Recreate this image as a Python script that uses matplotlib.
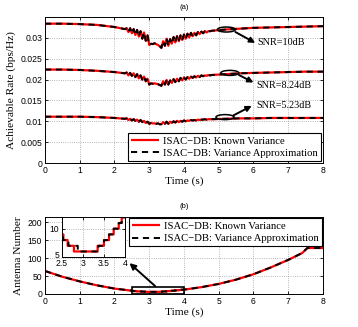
import matplotlib
matplotlib.use("Agg")
import matplotlib.pyplot as plt
import matplotlib.transforms as mtransforms
from matplotlib.patches import Ellipse, Rectangle

# ---------------- data ----------------
t_rate = [0, 0.5, 1.0, 1.5, 2.0, 2.3,
          2.35, 2.4, 2.45, 2.5, 2.55, 2.6, 2.65, 2.7, 2.75, 2.8,
          2.85, 2.9, 2.95, 3.0, 3.05, 3.1, 3.15, 3.2, 3.25, 3.3,
          3.35, 3.4, 3.45, 3.5, 3.55, 3.6, 3.65, 3.7, 3.75, 3.8,
          3.85, 3.9, 3.95, 4.0, 4.05, 4.1, 4.15, 4.2, 4.25, 4.3,
          4.35, 4.4, 4.45, 4.5, 4.55, 4.6, 4.65, 4.7, 4.75, 4.8,
          5.2, 5.6, 6.0, 6.5, 7.0, 7.5, 8.0]

rate_10dB = [0.0334, 0.0334, 0.0333, 0.0331, 0.0326, 0.0321,
             0.0323, 0.0314, 0.0323, 0.0311, 0.0321, 0.0307, 0.0319, 0.0303, 0.0316, 0.0298,
             0.0313, 0.0293, 0.0306, 0.0283, 0.0286, 0.0285, 0.0287, 0.0285, 0.0283, 0.0280,
             0.0276, 0.0292, 0.0281, 0.0298, 0.0281, 0.0297, 0.0286, 0.0302, 0.0289, 0.0304,
             0.0292, 0.0306, 0.0295, 0.0308, 0.0298, 0.0310, 0.0301, 0.0312, 0.0304, 0.0312,
             0.0306, 0.0314, 0.0309, 0.0315, 0.0311, 0.0316, 0.0313, 0.0316, 0.0316, 0.0317,
             0.0320, 0.0322, 0.0324, 0.0325, 0.0326, 0.0327, 0.0328]

rate_824dB = [0.0224, 0.0224, 0.0223, 0.0221, 0.0218, 0.0215,
              0.0217, 0.0210, 0.0216, 0.0209, 0.0215, 0.0206, 0.0213, 0.0203, 0.0210, 0.0200,
              0.0207, 0.0196, 0.0202, 0.0188, 0.0191, 0.0190, 0.0191, 0.0190, 0.0189, 0.0187,
              0.0185, 0.0196, 0.0188, 0.0199, 0.0188, 0.0198, 0.0192, 0.0201, 0.0194, 0.0202,
              0.0196, 0.0204, 0.0198, 0.0205, 0.0200, 0.0206, 0.0202, 0.0207, 0.0204, 0.0208,
              0.0205, 0.0209, 0.0206, 0.0210, 0.0208, 0.0210, 0.0209, 0.0211, 0.0210, 0.0211,
              0.0213, 0.0215, 0.0216, 0.0217, 0.0218, 0.0219, 0.0219]

rate_523dB = [0.0111, 0.0111, 0.0111, 0.0110, 0.0108, 0.0106,
              0.0107, 0.0103, 0.0106, 0.0102, 0.0105, 0.0101, 0.0104, 0.0099, 0.0103, 0.0098,
              0.0101, 0.0096, 0.0099, 0.0094, 0.0096, 0.0095, 0.0095, 0.0094, 0.0095, 0.0093,
              0.0093, 0.0098, 0.0094, 0.0099, 0.0094, 0.0099, 0.0096, 0.0100, 0.0097, 0.0101,
              0.0098, 0.0101, 0.0099, 0.0102, 0.0100, 0.0102, 0.0101, 0.0103, 0.0102, 0.0103,
              0.0102, 0.0104, 0.0103, 0.0104, 0.0104, 0.0105, 0.0104, 0.0105, 0.0105, 0.0105,
              0.0106, 0.0107, 0.0107, 0.0108, 0.0108, 0.0108, 0.0108]

t_ant_known = [0, 0.5, 1.0, 1.5, 2.0, 2.5, 2.54, 2.54, 2.64, 2.64, 2.79, 2.79,
               3.35, 3.35, 3.5, 3.5, 3.62, 3.62, 3.73, 3.73, 3.85, 3.85, 3.92, 3.92,
               4.0, 4.5, 5.0, 5.5, 6.0, 6.5, 7.0, 7.4, 7.55, 8.0]
n_ant_known = [64, 48, 35, 24, 15, 9, 9, 8, 8, 7, 7, 6,
               6, 7, 7, 8, 8, 9, 9, 10, 10, 11, 11, 12,
               12, 19, 28, 40, 55, 74, 95, 114, 128, 128]

t_ant_approx = [0, 0.5, 1.0, 1.5, 2.0, 2.5, 2.53, 2.53, 2.66, 2.66, 2.88, 2.88,
                3.37, 3.37, 3.5, 3.5, 3.62, 3.62, 3.73, 3.73, 3.85, 3.85, 3.92, 3.92,
                4.0, 4.5, 5.0, 5.5, 6.0, 6.5, 7.0, 7.4, 7.55, 8.0]
n_ant_approx = [64, 48, 35, 24, 15, 9.3, 9.3, 8, 8, 7, 7, 6,
                6, 7, 7, 8, 8, 9, 9, 10, 10, 11, 11, 12,
                12, 19, 28, 40, 55, 74, 95, 114, 128, 128]

snr_labels = ["SNR=10dB", "SNR=8.24dB", "SNR=5.23dB"]
legend_labels = ["ISAC\u2212DB: Known Variance", "ISAC\u2212DB: Variance Approximation"]

# ---------------- style ----------------
SERIF = "Liberation Serif"
SANS = "Liberation Sans"
plt.rcParams["font.family"] = SANS

fig = plt.figure(figsize=(3.58, 3.27), dpi=100)
ax1 = fig.add_axes([0.1257, 0.5015, 0.7765, 0.4465])
ax2 = fig.add_axes([0.1257, 0.101, 0.7765, 0.236])

def style(ax, size=6.2):
    ax.grid(True, linestyle=":", color="#a0a0a0", linewidth=0.6)
    ax.tick_params(direction="in", length=2.5, width=0.6, labelsize=size,
                   top=True, right=True, pad=2)
    for s in ax.spines.values():
        s.set_linewidth(0.7)
    for lab in ax.get_xticklabels() + ax.get_yticklabels():
        lab.set_fontfamily(SANS)

red_kw = dict(color="#ff0000", linewidth=1.6, solid_capstyle="butt")
blk_kw = dict(color="black", linewidth=1.4, linestyle=(0, (3.2, 2.4)))

# ---------- (a) ----------
for series in (rate_10dB, rate_824dB, rate_523dB):
    l1, = ax1.plot(t_rate, series, **red_kw)
    l2, = ax1.plot(t_rate, series, **blk_kw)
ax1.set_xlim(0, 8)
ax1.set_ylim(0, 0.035)
ax1.set_xticks(range(0, 9))
ax1.set_yticks([0, 0.005, 0.01, 0.015, 0.02, 0.025, 0.03])
ax1.set_yticklabels(["0", "0.005", "0.01", "0.015", "0.02", "0.025", "0.03"])
style(ax1)
ax1.set_xlabel("Time (s)", fontfamily=SERIF, fontsize=8.2, labelpad=1)
ax1.set_ylabel("Achievable Rate (bps/Hz)", fontfamily=SERIF, fontsize=8.2, labelpad=3)
ax1.set_title("(a)", fontsize=5.5, fontfamily=SANS, pad=5.5)

ell_centers = [(5.22, 0.0320), (5.32, 0.0216), (5.18, 0.0110)]
arrow_start = [(5.48, 0.0314), (5.58, 0.0211), (5.42, 0.0114)]
arrow_end = [(6.05, 0.0288), (6.0, 0.0193), (5.95, 0.0137)]
text_pos = [(6.1, 0.0288), (6.07, 0.0186), (6.07, 0.0137)]
for c, a0, a1, tp, lab in zip(ell_centers, arrow_start, arrow_end, text_pos, snr_labels):
    ax1.add_patch(Ellipse(c, 0.52, 0.0012, fill=False, edgecolor="black", linewidth=1.1, zorder=5))
    ax1.annotate("", xy=a1, xytext=a0,
                 arrowprops=dict(arrowstyle="-|>", color="black", lw=1.4,
                                 mutation_scale=8, shrinkA=0, shrinkB=0), zorder=6)
    ax1.text(tp[0], tp[1], lab, fontfamily=SERIF, fontsize=7.3, va="center", ha="left")

leg_kw = dict(prop={"family": SERIF, "size": 7.7}, frameon=True, fancybox=False,
              edgecolor="black", framealpha=1, handlelength=2.6, borderpad=0.3,
              labelspacing=0.3, handletextpad=0.4)
leg1 = ax1.legend([l1, l2], legend_labels, loc="lower right", borderaxespad=0.15, **leg_kw)
leg1.get_frame().set_linewidth(0.8)

# ---------- (b) ----------
k1, = ax2.plot(t_ant_known, n_ant_known, **red_kw)
k2, = ax2.plot(t_ant_approx, n_ant_approx, **blk_kw)
ax2.set_xlim(0, 8)
ax2.set_ylim(0, 215)
ax2.set_xticks(range(0, 9))
ax2.set_yticks([0, 50, 100, 150, 200])
style(ax2)
ax2.set_xlabel("Time (s)", fontfamily=SERIF, fontsize=8.2, labelpad=1)
ax2.set_ylabel("Antenna Number", fontfamily=SERIF, fontsize=8.2, labelpad=3)
ax2.set_title("(b)", fontsize=5.5, fontfamily=SANS, pad=6)
ax2.add_patch(Rectangle((2.5, 1), 1.5, 18, fill=False, edgecolor="black", linewidth=1.2, zorder=5))
ax2.annotate("", xy=(2.43, 86), xytext=(3.17, 22),
             arrowprops=dict(arrowstyle="-|>", color="black", lw=1.4,
                             mutation_scale=9, shrinkA=0, shrinkB=0), zorder=6)
leg2 = ax2.legend([k1, k2], legend_labels, loc="upper right", borderaxespad=0.1, **leg_kw)
leg2.get_frame().set_linewidth(0.8)

# inset
axi = fig.add_axes([0.1724, 0.2135, 0.177, 0.1220])
axi.plot(t_ant_known, n_ant_known, **red_kw)
axi.plot(t_ant_approx, n_ant_approx, **blk_kw)
axi.set_xlim(2.5, 4)
axi.set_ylim(5, 12)
axi.set_xticks([2.5, 3, 3.5, 4])
axi.set_xticklabels(["2.5", "3", "3.5", "4"])
axi.set_yticks([5, 10])
style(axi)
axi.tick_params(axis="x", pad=1.5)
lift = mtransforms.ScaledTranslation(0, 3 / 100, fig.dpi_scale_trans)
ylabs = axi.get_yticklabels()
ylabs[0].set_transform(ylabs[0].get_transform() + lift)

fig.savefig("out.png", dpi=100)
